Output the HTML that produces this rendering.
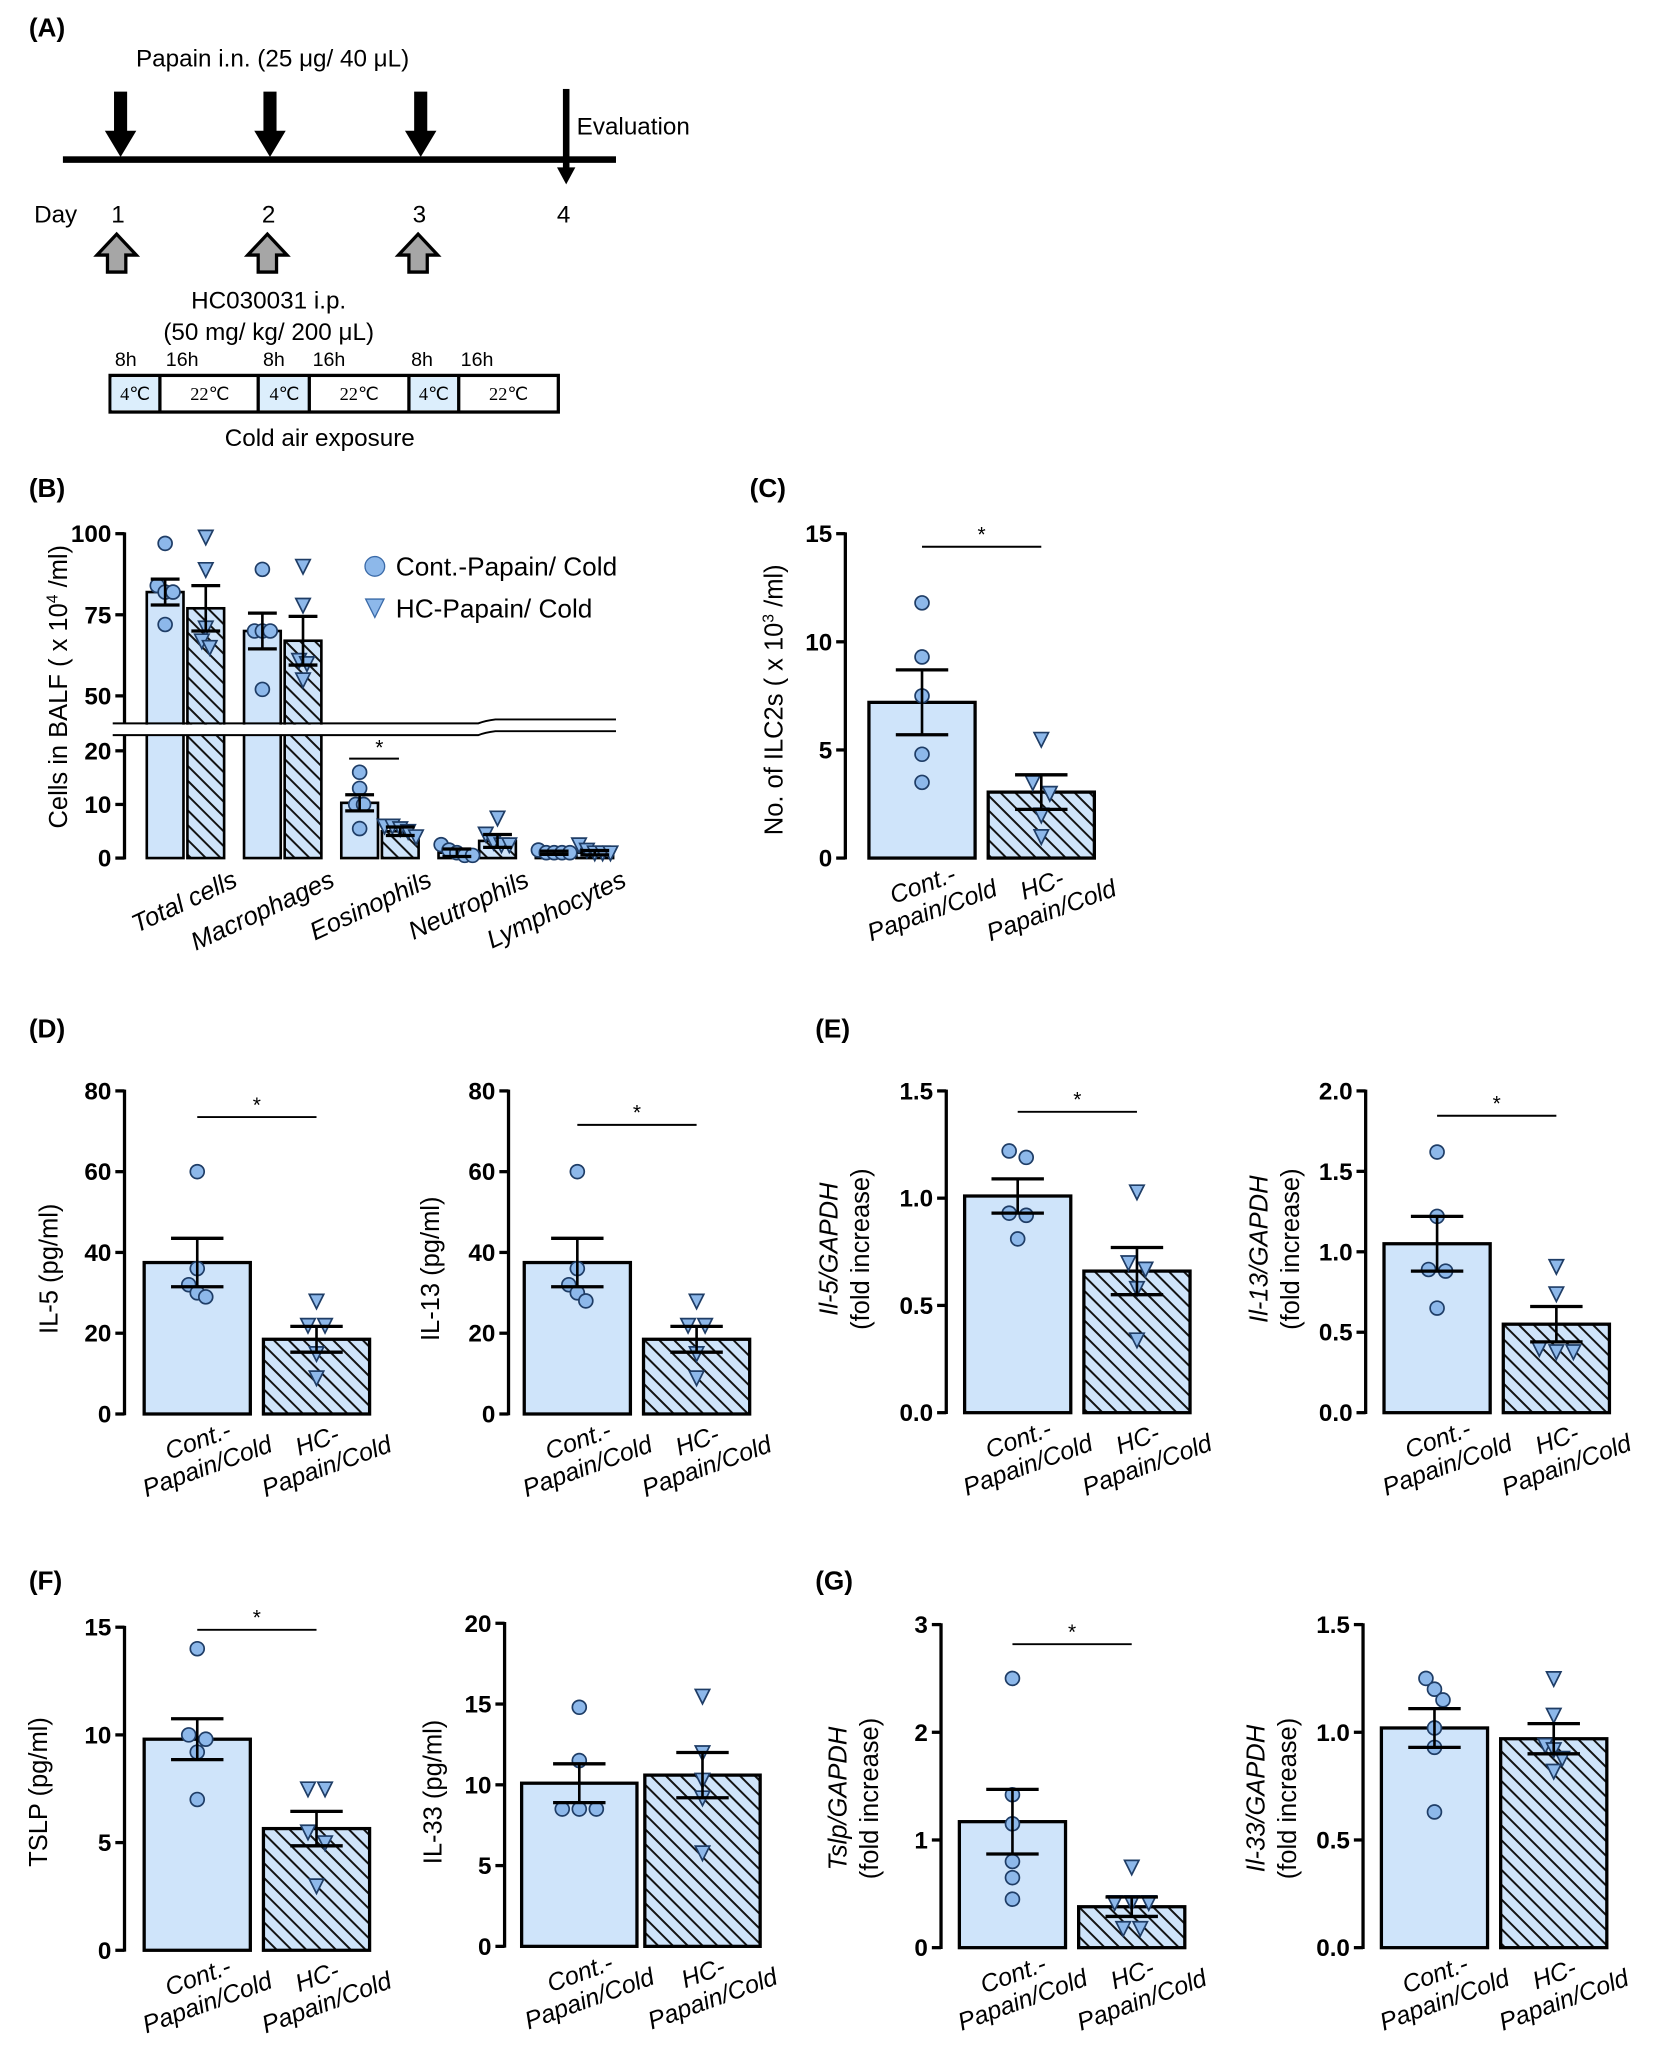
<!DOCTYPE html>
<html><head><meta charset="utf-8"><style>
html,body{margin:0;padding:0;background:#fff}
svg{display:block}
text{font-family:"Liberation Sans",Arial,sans-serif;fill:#000}
</style></head><body>
<svg id="fig" width="1654" height="2051" viewBox="0 0 1262 1568" preserveAspectRatio="none" xmlns="http://www.w3.org/2000/svg">
<defs>
<pattern id="hatch" patternUnits="userSpaceOnUse" width="8" height="8" patternTransform="rotate(45)">
<rect width="8" height="8" fill="#cfe4fa"/><line x1="0" y1="0" x2="8" y2="0" stroke="#111" stroke-width="3"/>
</pattern>
</defs>
<g>
<text x="22" y="28" font-size="20" font-weight="bold">(A)</text>
<text x="208" y="51" font-size="18.5" text-anchor="middle">Papain i.n. (25 μg/ 40 μL)</text>
<rect x="48" y="119.5" width="422" height="5" fill="#000"/>
<polygon points="87,70 97,70 97,100 104,100 92,120 80,100 87,100" fill="#000"/>
<polygon points="201,70 211,70 211,100 218,100 206,120 194,100 201,100" fill="#000"/>
<polygon points="316,70 326,70 326,100 333,100 321,120 309,100 316,100" fill="#000"/>
<rect x="429.5" y="68" width="5" height="62" fill="#000"/>
<polygon points="425,128 439,128 432,141" fill="#000"/>
<text x="440" y="103" font-size="18.5">Evaluation</text>
<text x="26" y="170" font-size="18.5">Day</text>
<text x="90" y="170" font-size="18.5" text-anchor="middle">1</text>
<text x="205" y="170" font-size="18.5" text-anchor="middle">2</text>
<text x="320" y="170" font-size="18.5" text-anchor="middle">3</text>
<text x="430" y="170" font-size="18.5" text-anchor="middle">4</text>
<polygon points="89,179 104,195 96,195 96,208 82,208 82,195 74,195" fill="#a6a6a6" stroke="#000" stroke-width="2.5"/>
<polygon points="204,179 219,195 211,195 211,208 197,208 197,195 189,195" fill="#a6a6a6" stroke="#000" stroke-width="2.5"/>
<polygon points="319,179 334,195 326,195 326,208 312,208 312,195 304,195" fill="#a6a6a6" stroke="#000" stroke-width="2.5"/>
<text x="205" y="236" font-size="18.5" text-anchor="middle">HC030031 i.p.</text>
<text x="205" y="260" font-size="18.5" text-anchor="middle">(50 mg/ kg/ 200 μL)</text>
<g font-size="15">
<text x="96" y="280" text-anchor="middle">8h</text><text x="139" y="280" text-anchor="middle">16h</text>
<text x="209" y="280" text-anchor="middle">8h</text><text x="251" y="280" text-anchor="middle">16h</text>
<text x="322" y="280" text-anchor="middle">8h</text><text x="364" y="280" text-anchor="middle">16h</text>
</g>
<g>
<rect x="84" y="287" width="342" height="28" fill="#fff" stroke="#000" stroke-width="2.5"/>
<rect x="85" y="288.5" width="37" height="25" fill="#dceefc"/>
<rect x="198" y="288.5" width="38" height="25" fill="#dceefc"/>
<rect x="313" y="288.5" width="37" height="25" fill="#dceefc"/>
<g stroke="#000" stroke-width="2.5"><line x1="122" y1="287" x2="122" y2="315"/><line x1="197" y1="287" x2="197" y2="315"/><line x1="236" y1="287" x2="236" y2="315"/><line x1="312" y1="287" x2="312" y2="315"/><line x1="350" y1="287" x2="350" y2="315"/></g>
<g font-size="14" text-anchor="middle">
<text x="103" y="306" style="font-family:'Liberation Serif',serif">4℃</text><text x="160" y="306" style="font-family:'Liberation Serif',serif">22℃</text>
<text x="217" y="306" style="font-family:'Liberation Serif',serif">4℃</text><text x="274" y="306" style="font-family:'Liberation Serif',serif">22℃</text>
<text x="331" y="306" style="font-family:'Liberation Serif',serif">4℃</text><text x="388" y="306" style="font-family:'Liberation Serif',serif">22℃</text>
</g></g>
<text x="244" y="341" font-size="18.5" text-anchor="middle">Cold air exposure</text>
</g>
<text x="22" y="380" font-size="20" font-weight="bold">(B)</text>
<text x="572" y="380" font-size="20" font-weight="bold">(C)</text>
<text x="22" y="793" font-size="20" font-weight="bold">(D)</text>
<text x="622" y="793" font-size="20" font-weight="bold">(E)</text>
<text x="22" y="1215" font-size="20" font-weight="bold">(F)</text>
<text x="622" y="1215" font-size="20" font-weight="bold">(G)</text>
<g id="charts"></g>
</svg>
<script>
// ---- Panel B data ----
const bCategories = ["Total cells","Macrophages","Eosinophils","Neutrophils","Lymphocytes"];
const bContMeans = [82, 70, 10.3, 1.0, 1.0];
const bContSems = [4, 5.5, 1.5, 0.7, 0.3];
const bHcMeans = [77, 67, 5.0, 3.2, 1.0];
const bHcSems = [7, 7.5, 0.8, 1.2, 0.4];
const bContPts = [[97,84,82,82,72],[89,70,70,70,52],[16,13,10,10,5.5],[2.5,1.5,1,0.5,0.5],[1.5,1,1,1,1]];
const bHcPts = [[99,89,71,67,65],[90,78,61,60,55],[6,6,5.5,5,4],[7.5,4.5,3,2.5,2.5],[2.5,1.5,1,1,1]];
const bTicks = [0,10,20,50,75,100];
// ---- Panel C ----
const cMeans = [7.2, 3.05];
const cSems = [1.5, 0.8];
const cContPts = [11.8, 9.3, 7.5, 4.8, 3.5];
const cHcPts = [5.5, 3.5, 3.0, 2.0, 1.0];
const cTicks = [0,5,10,15];
// ---- Panel D ----
const dIl5Means = [37.5, 18.5];
const dIl5Sems = [6, 3.2];
const dIl5Cont = [60, 36, 32, 30, 29];
const dIl5Hc = [28, 22, 22, 15, 9];
const dIl13Means = [37.5, 18.5];
const dIl13Sems = [6, 3.2];
const dIl13Cont = [60, 36, 32, 30, 28];
const dIl13Hc = [28, 22, 22, 15, 9];
const dTicks = [0,20,40,60,80];
// ---- Panel E ----
const eIl5Means = [1.01, 0.66];
const eIl5Sems = [0.08, 0.11];
const eIl5Cont = [1.22, 1.19, 0.93, 0.92, 0.81];
const eIl5Hc = [1.03, 0.70, 0.67, 0.58, 0.34];
const eIl5Ticks = [0,0.5,1.0,1.5];
const eIl13Means = [1.05, 0.55];
const eIl13Sems = [0.17, 0.11];
const eIl13Cont = [1.62, 1.22, 0.89, 0.88, 0.65];
const eIl13Hc = [0.91, 0.74, 0.40, 0.38, 0.38];
const eIl13Ticks = [0,0.5,1.0,1.5,2.0];
// ---- Panel F ----
const fTslpMeans = [9.8, 5.65];
const fTslpSems = [0.95, 0.8];
const fTslpCont = [14, 10, 9.8, 9.2, 7];
const fTslpHc = [7.5, 7.5, 5.5, 5, 3];
const fTslpTicks = [0,5,10,15];
const fIl33Means = [10.1, 10.6];
const fIl33Sems = [1.2, 1.4];
const fIl33Cont = [14.8, 11.5, 8.5, 8.5, 8.5];
const fIl33Hc = [15.5, 12, 10.3, 9.2, 5.8];
const fIl33Ticks = [0,5,10,15,20];
// ---- Panel G ----
const gTslpMeans = [1.17, 0.38];
const gTslpSems = [0.3, 0.09];
const gTslpCont = [2.5, 1.42, 1.15, 0.8, 0.65, 0.45];
const gTslpHc = [0.75, 0.42, 0.42, 0.42, 0.18, 0.18];
const gTslpTicks = [0,1,2,3];
const gIl33Means = [1.02, 0.97];
const gIl33Sems = [0.09, 0.07];
const gIl33Cont = [1.25, 1.2, 1.15, 1.02, 0.93, 0.63];
const gIl33Hc = [1.25, 1.08, 0.94, 0.92, 0.88, 0.82];
const gIl33Ticks = [0.0,0.5,1.0,1.5];

const NS = "http://www.w3.org/2000/svg";
const root = document.getElementById('charts');
function mk(tag, attrs, parent){ const e=document.createElementNS(NS,tag); for(const k in attrs) e.setAttribute(k,attrs[k]); (parent||root).appendChild(e); return e; }
const PT_FILL="#8db8ea", PT_STROKE="#1f3d66";
function circle(g,x,y){ const c=mk('circle',{cx:x,cy:y,r:5.3,fill:PT_FILL,stroke:PT_STROKE,'stroke-width':1.3},g);

 }
function tri(g,x,y){ const p=mk('polygon',{points:`${x-5.5},${y-5} ${x+5.5},${y-5} ${x},${y+6}`,fill:PT_FILL,stroke:PT_STROKE,'stroke-width':1.3},g);

 }
function spread(n,i,w){ if(n<=1) return 0; return (i-(n-1)/2)*w; }
function errbar(g,x,m,s,ys,cw){
  mk('line',{x1:x,y1:ys(m+s),x2:x,y2:ys(m-s),stroke:'#000','stroke-width':2},g);
  mk('line',{x1:x-cw/2,y1:ys(m+s),x2:x+cw/2,y2:ys(m+s),stroke:'#000','stroke-width':2.5},g);
  mk('line',{x1:x-cw/2,y1:ys(m-s),x2:x+cw/2,y2:ys(m-s),stroke:'#000','stroke-width':2.5},g);
}
function points(g,x,arr,ys,fn,w){
  arr.forEach((v,i)=>{
    const same=arr.filter(u=>Math.abs(ys(u)-ys(v))<9);
    let k=0; for(let j=0;j<i;j++){ if(Math.abs(ys(arr[j])-ys(v))<9) k++; }
    fn(g, x+spread(same.length,k,w), ys(v));
  });
}
function yAxis(g,ax,y0,y1,ticks,ys,fmt){
  mk('line',{x1:ax,y1:y0+1,x2:ax,y2:y1-1,stroke:'#000','stroke-width':2.5},g);
  ticks.forEach(t=>{ const y=ys(t);
    mk('line',{x1:ax-7,y1:y,x2:ax,y2:y,stroke:'#000','stroke-width':2.5},g);
    const tx=mk('text',{x:ax-10,y:y+6.5,'font-size':18.5,'font-weight':'bold','text-anchor':'end'},g); tx.textContent=fmt(t);
    
     });
}
function xlabel(g,cx,y,l1,l2){
  const t=mk('g',{transform:`translate(${cx},${y}) rotate(-20)`},g);
  const a=mk('text',{x:0,y:-4,'font-size':19,'text-anchor':'middle','font-style':'italic'},t); a.textContent=l1;
  
  
  const b=mk('text',{x:0,y:17,'font-size':19,'text-anchor':'middle','font-style':'italic'},t); b.textContent=l2;
  
  
}
function ylabel(g,x,yc,lines){
  const t=mk('g',{transform:`translate(${x},${yc}) rotate(-90)`},g);
  lines.forEach((ln,i)=>{ const e=mk('text',{x:0,y:i*24,'font-size':19.5,'text-anchor':'middle','font-style':ln.it?'italic':'normal'},t);
    e.innerHTML=ln.t;   });
}
function twoBar(cfg){
  const g=mk('g',{});
  
  
  const ys=v=>cfg.y0-(v-cfg.vmin)/(cfg.vmax-cfg.vmin)*(cfg.y0-cfg.y1);
  const bw=cfg.bw||81;
  const xs=[cfg.ax+cfg.off, cfg.ax+cfg.off+bw+cfg.gap];
  [0,1].forEach(i=>{
    const r=mk('rect',{x:xs[i],y:ys(cfg.means[i]),width:bw,height:cfg.y0-ys(cfg.means[i]),fill:i?'url(#hatch)':'#cfe4fa',stroke:'#000','stroke-width':2.5},g);
    
    
  });
  [0,1].forEach(i=>{ const cx=xs[i]+bw/2;
    points(g,cx,i?cfg.hc:cfg.cont,ys,i?tri:circle,13);
    errbar(g,cx,cfg.means[i],cfg.sems[i],ys,40); });
  yAxis(g,cfg.ax,cfg.y0,cfg.y1,cfg.ticks,ys,cfg.fmt||(t=>String(t)));
  if(cfg.sig){ const sy=cfg.sig; const l=mk('line',{x1:xs[0]+bw/2,y1:sy,x2:xs[1]+bw/2,y2:sy,stroke:'#000','stroke-width':1.5},g);
     
    const st=mk('text',{x:(xs[0]+xs[1])/2+bw/2,y:sy-4,'font-size':16,'text-anchor':'middle'},g); st.textContent='*';
      }
  xlabel(g,xs[0]+bw/2+4,cfg.y0+30,'Cont.-','Papain/Cold');
  xlabel(g,xs[1]+bw/2+4,cfg.y0+30,'HC-','Papain/Cold');
  ylabel(g,cfg.lx,cfg.lyc,cfg.label);
}
const f1=t=>t.toFixed(1);
twoBar({name:'chart-c-ilc2',ax:645,off:18,gap:10,y0:656,y1:408,vmin:0,vmax:15,ticks:cTicks,means:cMeans,sems:cSems,cont:cContPts,hc:cHcPts,sig:418,lx:597,lyc:535,label:[{t:'No. of ILC2s ( x 10<tspan font-size="12" dy="-7">3</tspan><tspan dy="7"> /ml)</tspan>'}]});
twoBar({name:'chart-d-il5',ax:95,off:15,gap:10,y0:1081,y1:834,vmin:0,vmax:80,ticks:dTicks,means:dIl5Means,sems:dIl5Sems,cont:dIl5Cont,hc:dIl5Hc,sig:854,lx:44,lyc:970,label:[{t:'IL-5 (pg/ml)'}]});
twoBar({name:'chart-d-il13',ax:388,off:12,gap:10,y0:1081,y1:834,vmin:0,vmax:80,ticks:dTicks,means:dIl13Means,sems:dIl13Sems,cont:dIl13Cont,hc:dIl13Hc,sig:860,lx:335,lyc:970,label:[{t:'IL-13 (pg/ml)'}]});
twoBar({name:'chart-e-il5-mrna',ax:722,off:14,gap:10,y0:1080,y1:834,vmin:0,vmax:1.5,ticks:eIl5Ticks,fmt:f1,means:eIl5Means,sems:eIl5Sems,cont:eIl5Cont,hc:eIl5Hc,sig:850,lx:639,lyc:955,label:[{t:'Il-5/GAPDH',it:1},{t:'(fold increase)'}]});
twoBar({name:'chart-e-il13-mrna',ax:1042,off:14,gap:10,y0:1080,y1:834,vmin:0,vmax:2.0,ticks:eIl13Ticks,fmt:f1,means:eIl13Means,sems:eIl13Sems,cont:eIl13Cont,hc:eIl13Hc,sig:853,lx:967,lyc:955,label:[{t:'Il-13/GAPDH',it:1},{t:'(fold increase)'}]});
twoBar({name:'chart-f-tslp',ax:95,off:15,gap:10,y0:1491,y1:1244,vmin:0,vmax:15,ticks:fTslpTicks,means:fTslpMeans,sems:fTslpSems,cont:fTslpCont,hc:fTslpHc,sig:1246,lx:36,lyc:1370,label:[{t:'TSLP (pg/ml)'}]});
twoBar({name:'chart-f-il33',ax:385,off:13,gap:6,bw:88,y0:1488,y1:1241,vmin:0,vmax:20,ticks:fIl33Ticks,means:fIl33Means,sems:fIl33Sems,cont:fIl33Cont,hc:fIl33Hc,sig:0,lx:337,lyc:1370,label:[{t:'IL-33 (pg/ml)'}]});
twoBar({name:'chart-g-tslp-mrna',ax:718,off:14,gap:10,y0:1489,y1:1242,vmin:0,vmax:3,ticks:gTslpTicks,means:gTslpMeans,sems:gTslpSems,cont:gTslpCont,hc:gTslpHc,sig:1257,lx:646,lyc:1375,label:[{t:'Tslp/GAPDH',it:1},{t:'(fold increase)'}]});
twoBar({name:'chart-g-il33-mrna',ax:1040,off:14,gap:10,y0:1489,y1:1242,vmin:0,vmax:1.5,ticks:gIl33Ticks,fmt:f1,means:gIl33Means,sems:gIl33Sems,cont:gIl33Cont,hc:gIl33Hc,sig:0,lx:965,lyc:1375,label:[{t:'Il-33/GAPDH',it:1},{t:'(fold increase)'}]});

// ---- Panel B chart ----
(function(){
  const g=mk('g',{});
  
  
  const ys=v=> v<=22 ? 656-v*4.1 : (v>=40 ? 532-(v-50)*2.48 : 565.8-(v-22)/18*(565.8-556.8));
  const ax=95, bw=28, pitch=74.2, x0=112;
  bCategories.forEach((c,i)=>{
    const xc=x0+i*pitch, xh=xc+bw+3;
    const r1=mk('rect',{x:xc,y:ys(bContMeans[i]),width:bw,height:656-ys(bContMeans[i]),fill:'#cfe4fa',stroke:'#000','stroke-width':2},g);
     
    const r2=mk('rect',{x:xh,y:ys(bHcMeans[i]),width:bw,height:656-ys(bHcMeans[i]),fill:'url(#hatch)',stroke:'#000','stroke-width':2},g);
     
    points(g,xc+bw/2,bContPts[i],ys,circle,6);
    points(g,xh+bw/2,bHcPts[i],ys,tri,6);
    errbar(g,xc+bw/2,bContMeans[i],bContSems[i],ys,22);
    errbar(g,xh+bw/2,bHcMeans[i],bHcSems[i],ys,22);
    const t=mk('g',{transform:`translate(${xc+2*bw+10},${668}) rotate(-25)`},g);
    const tx=mk('text',{x:0,y:10,'font-size':19.5,'text-anchor':'end','font-style':'italic'},t); tx.textContent=c;
     
  });
  mk('rect',{x:86,y:554,width:386,height:8,fill:'#fff'},g);
  const b1=mk('path',{d:'M86 553 L365 553 Q370 551 378 550 L470 550',fill:'none',stroke:'#000','stroke-width':1.5},g);
   
  const b2=mk('path',{d:'M86 562 L365 562 Q370 560 378 559 L470 559',fill:'none',stroke:'#000','stroke-width':1.5},g);
   
  mk('line',{x1:ax,y1:657,x2:ax,y2:562,stroke:'#000','stroke-width':2.5},g);
  mk('line',{x1:ax,y1:553,x2:ax,y2:407,stroke:'#000','stroke-width':2.5},g);
  bTicks.forEach(t=>{ const y=ys(t);
    mk('line',{x1:ax-7,y1:y,x2:ax,y2:y,stroke:'#000','stroke-width':2.5},g);
    const tx=mk('text',{x:ax-10,y:y+6.5,'font-size':18.5,'font-weight':'bold','text-anchor':'end'},g); tx.textContent=String(t);
      });
  const sx=x0+2*pitch;
  mk('line',{x1:sx+6,y1:580,x2:sx+44,y2:580,stroke:'#000','stroke-width':1.5},g);
  const st=mk('text',{x:sx+29,y:577,'font-size':16,'text-anchor':'middle'},g); st.textContent='*';
   
  ylabel(g,51,525,[{t:'Cells in BALF ( x 10<tspan font-size="12" dy="-7">4</tspan><tspan dy="7"> /ml)</tspan>'}]);
  const lg=mk('g',{},g);
   
  mk('circle',{cx:286,cy:433,r:7.5,fill:PT_FILL,stroke:'#3a6aa8','stroke-width':1},lg);
  const l1=mk('text',{x:302,y:440,'font-size':20},lg); l1.textContent='Cont.-Papain/ Cold';
   
  mk('polygon',{points:'279,458 293,458 286,472',fill:PT_FILL,stroke:'#3a6aa8','stroke-width':1},lg);
  const l2=mk('text',{x:302,y:472,'font-size':20},lg); l2.textContent='HC-Papain/ Cold';
   
})();
</script>
</body></html>
